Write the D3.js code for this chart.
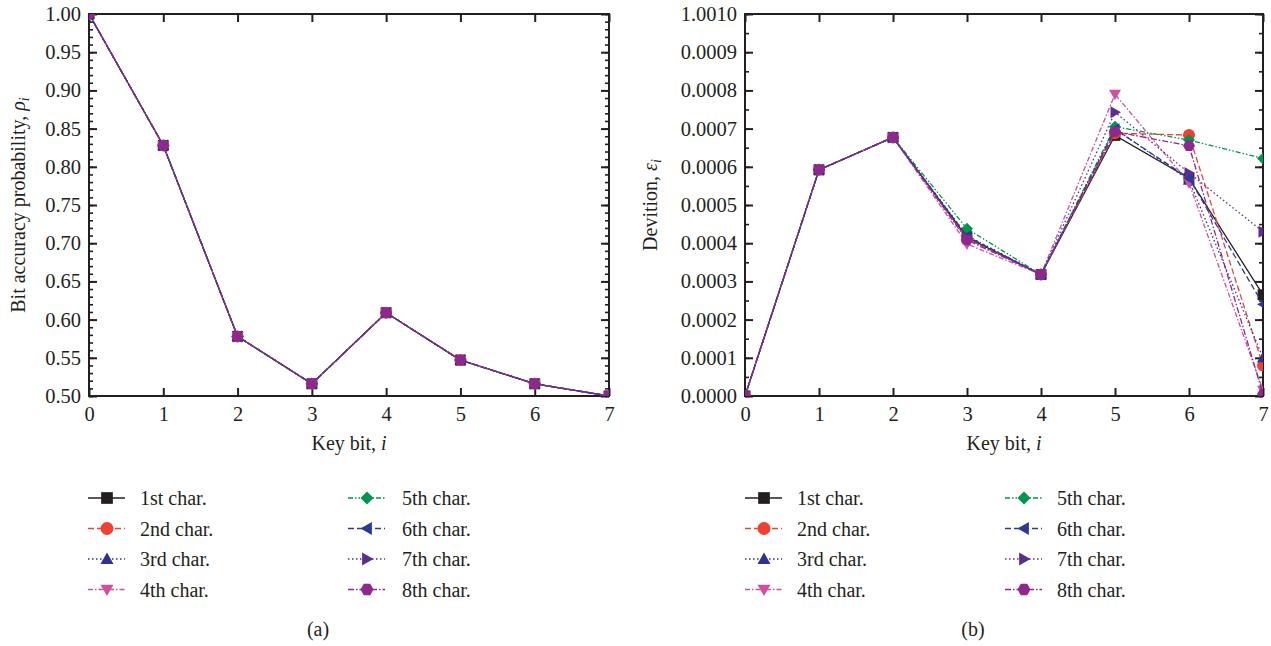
<!DOCTYPE html>
<html>
<head>
<meta charset="utf-8">
<script src="https://cdn.jsdelivr.net/npm/d3@7"></script>
<style>
  body { margin: 0; background: #fff; }
  svg text { font-family: "Liberation Serif", "Times New Roman", serif; fill: #231f20; }
</style>
</head>
<body>
<svg id="fig" width="1271" height="646"></svg>
<script>
var keyBits = [0, 1, 2, 3, 4, 5, 6, 7];
var charNames = ["1st char.", "2nd char.", "3rd char.", "4th char.", "5th char.", "6th char.", "7th char.", "8th char."];

// (a) bit accuracy probability, identical for every character
var acc1 = [1.000, 0.828, 0.578, 0.516, 0.609, 0.547, 0.516, 0.500];
var acc2 = [1.000, 0.828, 0.578, 0.516, 0.609, 0.547, 0.516, 0.500];
var acc3 = [1.000, 0.828, 0.578, 0.516, 0.609, 0.547, 0.516, 0.500];
var acc4 = [1.000, 0.828, 0.578, 0.516, 0.609, 0.547, 0.516, 0.500];
var acc5 = [1.000, 0.828, 0.578, 0.516, 0.609, 0.547, 0.516, 0.500];
var acc6 = [1.000, 0.828, 0.578, 0.516, 0.609, 0.547, 0.516, 0.500];
var acc7 = [1.000, 0.828, 0.578, 0.516, 0.609, 0.547, 0.516, 0.500];
var acc8 = [1.000, 0.828, 0.578, 0.516, 0.609, 0.547, 0.516, 0.500];

// (b) deviation
var dev1 = [0, 0.000592, 0.000677, 0.000415, 0.000318, 0.000682, 0.000570, 0.000265];
var dev2 = [0, 0.000592, 0.000677, 0.000412, 0.000318, 0.000688, 0.000683, 0.000080];
var dev3 = [0, 0.000592, 0.000677, 0.000420, 0.000318, 0.000700, 0.000565, 0.000100];
var dev4 = [0, 0.000592, 0.000677, 0.000398, 0.000318, 0.000790, 0.000558, 0.000015];
var dev5 = [0, 0.000592, 0.000677, 0.000438, 0.000318, 0.000705, 0.000670, 0.000622];
var dev6 = [0, 0.000592, 0.000677, 0.000418, 0.000318, 0.000698, 0.000570, 0.000240];
var dev7 = [0, 0.000592, 0.000677, 0.000412, 0.000318, 0.000743, 0.000584, 0.000430];
var dev8 = [0, 0.000592, 0.000677, 0.000408, 0.000318, 0.000692, 0.000655, 0.000005];

var accTicks = [0.50, 0.55, 0.60, 0.65, 0.70, 0.75, 0.80, 0.85, 0.90, 0.95, 1.00];
var accTickLabels = ["0.50", "0.55", "0.60", "0.65", "0.70", "0.75", "0.80", "0.85", "0.90", "0.95", "1.00"];
var devTicks = [0, 0.0001, 0.0002, 0.0003, 0.0004, 0.0005, 0.0006, 0.0007, 0.0008, 0.0009, 0.0010];
var devTickLabels = ["0.0000", "0.0001", "0.0002", "0.0003", "0.0004", "0.0005", "0.0006", "0.0007", "0.0008", "0.0009", "1.0010"];

var colors = ["#231f20", "#ef4130", "#2e3192", "#c951a0", "#00954a", "#2b3a97", "#5b2d8e", "#8e278f"];
var dashes = [null, "6,3", "1.5,2.5", "5,2,1.5,2", "5,2,1.5,2,1.5,2", "6,3", "1.5,2.5", "6,2,1.5,2"];
var shapes = ["square", "circle", "up", "down", "diamond", "left", "right", "hex"];

var svg = d3.select("#fig");

function markerPath(shape, r) {
    var p;
    if (shape === "circle") return d3.symbol(d3.symbolCircle, Math.PI * r * r)();
    if (shape === "square") { var s = r * 0.9; return "M" + -s + "," + -s + "H" + s + "V" + s + "H" + -s + "Z"; }
    if (shape === "diamond") return "M0," + -r + "L" + r + ",0L0," + r + "L" + -r + ",0Z";
    if (shape === "hex") {
        p = d3.range(6).map(function (k) { var a = Math.PI / 3 * k; return [r * Math.cos(a), r * Math.sin(a)]; });
        return "M" + p.join("L") + "Z";
    }
    // triangles
    var pts = { up: [[0, -r], [r, r * 0.75], [-r, r * 0.75]],
                down: [[0, r], [r, -r * 0.75], [-r, -r * 0.75]],
                left: [[-r, 0], [r * 0.75, -r], [r * 0.75, r]],
                right: [[r, 0], [-r * 0.75, -r], [-r * 0.75, r]] }[shape];
    return "M" + pts.join("L") + "Z";
}

function drawPlot(cfg) {
    var w = cfg.x1 - cfg.x0, h = cfg.y1 - cfg.y0;
    var g = svg.append("g").attr("transform", "translate(" + cfg.x0 + "," + cfg.y0 + ")");

    var xScale = d3.scaleLinear().domain([0, 7]).range([0, w]);
    var yScale = d3.scaleLinear().domain(cfg.yDomain).range([h, 0]);

    g.append("clipPath").attr("id", cfg.id + "-clip")
        .append("rect").attr("width", w).attr("height", h);

    // minor ticks, left and right
    g.append("g").attr("class", "minor")
        .call(d3.axisLeft(yScale).tickValues(cfg.minorTicks).tickSize(-4).tickFormat(""));
    g.append("g").attr("class", "minor").attr("transform", "translate(" + w + ",0)")
        .call(d3.axisRight(yScale).tickValues(cfg.minorTicks).tickSize(-4).tickFormat(""));

    g.append("g").attr("class", "major")
        .call(d3.axisLeft(yScale).tickValues(cfg.yTicks).tickSize(-8).tickPadding(8)
            .tickFormat(function (d, i) { return cfg.yLabels[i]; }));
    g.append("g").attr("class", "major").attr("transform", "translate(" + w + ",0)")
        .call(d3.axisRight(yScale).tickValues(cfg.yTicks).tickSize(-8).tickFormat(""));
    g.append("g").attr("class", "major").attr("transform", "translate(0," + h + ")")
        .call(d3.axisBottom(xScale).tickValues(keyBits).tickSize(-8).tickPadding(10).tickFormat(d3.format("d")));
    g.append("g").attr("class", "major")
        .call(d3.axisTop(xScale).tickValues(keyBits).tickSize(-8).tickFormat(""));

    g.selectAll(".domain").remove();
    g.selectAll(".tick line").attr("stroke", "#231f20").attr("stroke-width", 2);
    g.selectAll(".minor .tick line").attr("stroke-width", 1.6);
    g.selectAll(".tick text").style("font-size", "20.5px").attr("fill", "#231f20");

    g.append("rect").attr("width", w).attr("height", h)
        .attr("fill", "none").attr("stroke", "#231f20").attr("stroke-width", 2);

    var line = d3.line()
        .x(function (d, i) { return xScale(keyBits[i]); })
        .y(function (d) { return yScale(d); });

    var plot = g.append("g").attr("clip-path", "url(#" + cfg.id + "-clip)");
    cfg.series.forEach(function (vals, s) {
        plot.append("path").datum(vals)
            .attr("d", line)
            .attr("fill", "none")
            .attr("stroke", colors[s])
            .attr("stroke-width", 1.3)
            .attr("stroke-dasharray", dashes[s]);
        plot.selectAll(".m" + s).data(vals).enter().append("path")
            .attr("class", "m" + s)
            .attr("transform", function (d, i) { return "translate(" + xScale(keyBits[i]) + "," + yScale(d) + ")"; })
            .attr("d", markerPath(shapes[s], 6))
            .attr("fill", colors[s]);
    });

    // axis titles
    var xt = svg.append("text")
        .attr("x", cfg.x0 + w / 2).attr("y", 450)
        .attr("text-anchor", "middle").style("font-size", "20px");
    xt.append("tspan").text("Key bit, ");
    xt.append("tspan").style("font-style", "italic").text("i");

    var yt = svg.append("text")
        .attr("transform", "translate(" + cfg.yTitleX + "," + (cfg.y0 + h / 2) + ") rotate(-90)")
        .attr("text-anchor", "middle").style("font-size", "20px");
    yt.append("tspan").text(cfg.yTitle);
    yt.append("tspan").style("font-style", "italic").text(cfg.ySym);
    yt.append("tspan").style("font-style", "italic").style("font-size", "14px").attr("dy", 4).text("i");

    // legend
    cfg.legendCols.forEach(function (col, c) {
        d3.range(4).forEach(function (r) {
            var s = c * 4 + r, y = 498 + r * 30.5;
            var lg = svg.append("g");
            lg.append("line")
                .attr("x1", col.lx).attr("x2", col.lx + 37).attr("y1", y).attr("y2", y)
                .attr("stroke", colors[s]).attr("stroke-width", 1.3)
                .attr("stroke-dasharray", dashes[s]);
            lg.append("path")
                .attr("transform", "translate(" + (col.lx + 19) + "," + y + ")")
                .attr("d", markerPath(shapes[s], 6.5))
                .attr("fill", colors[s]);
            lg.append("text")
                .attr("x", col.tx).attr("y", y + 7)
                .style("font-size", "20px")
                .text(charNames[s]);
        });
    });

    svg.append("text")
        .attr("x", cfg.x0 + w / 2 - 31).attr("y", 636)
        .attr("text-anchor", "middle").style("font-size", "20px")
        .text(cfg.caption);
}

drawPlot({
    id: "a", x0: 89, x1: 609, y0: 14, y1: 396,
    yDomain: [0.5, 1.0], yTicks: accTicks, yLabels: accTickLabels,
    minorTicks: d3.range(50, 101).map(function (k) { return k / 100; }),
    series: [acc1, acc2, acc3, acc4, acc5, acc6, acc7, acc8],
    yTitle: "Bit accuracy probability, ", ySym: "\u03C1", yTitleX: 25,
    legendCols: [{ lx: 88, tx: 140 }, { lx: 348, tx: 402 }],
    caption: "(a)"
});

drawPlot({
    id: "b", x0: 745, x1: 1263, y0: 14, y1: 396,
    yDomain: [0, 0.001], yTicks: devTicks, yLabels: devTickLabels,
    minorTicks: d3.range(0, 21).map(function (k) { return k * 0.00005; }),
    series: [dev1, dev2, dev3, dev4, dev5, dev6, dev7, dev8],
    yTitle: "Devition, ", ySym: "\u03B5", yTitleX: 657,
    legendCols: [{ lx: 745, tx: 797 }, { lx: 1005, tx: 1057 }],
    caption: "(b)"
});
</script>
</body>
</html>
